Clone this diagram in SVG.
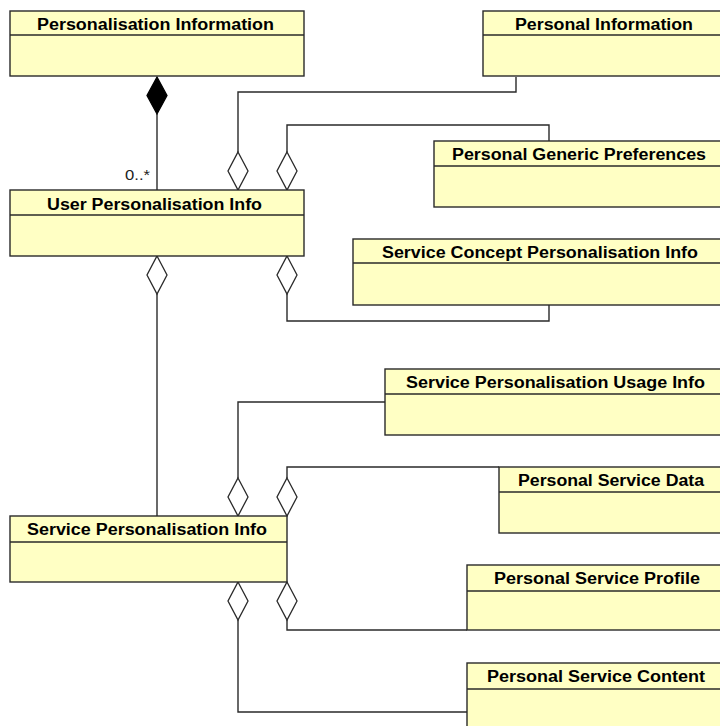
<svg xmlns="http://www.w3.org/2000/svg" width="720" height="726" viewBox="0 0 720 726">
<style>
.box{fill:#FFFFC4;stroke:#2a2a2a;stroke-width:1.4}
.sep{stroke:#2a2a2a;stroke-width:1.4}
.t{font-family:"Liberation Sans",Arial,sans-serif;font-weight:bold;font-size:16px;fill:#000}
.c{fill:none;stroke:#2a2a2a;stroke-width:1.4}
.ad{fill:#fff;stroke:#2a2a2a;stroke-width:1.3}
.cd{fill:#000;stroke:#000;stroke-width:1.3}
.m{font-family:"Liberation Sans",Arial,sans-serif;font-size:14px;fill:#222}
</style>
<rect width="720" height="726" fill="#fff"/>
<g id="connectors">
<path class="c" d="M157,114 V190"/>
<polygon class="cd" points="157,77 167,95.5 157,114 147,95.5"/>
<text class="m" x="125" y="180" textLength="25" lengthAdjust="spacingAndGlyphs">0..*</text>
<path class="c" d="M238,152 V92 H516 V77"/>
<polygon class="ad" points="238,152 248,171 238,190 228,171"/>
<path class="c" d="M287,152 V125 H549 V141"/>
<polygon class="ad" points="287,152 297,171 287,190 277,171"/>
<path class="c" d="M157,294 V516"/>
<polygon class="ad" points="157,256 167,275 157,294 147,275"/>
<path class="c" d="M287,294 V321 H549 V305"/>
<polygon class="ad" points="287,256 297,275 287,294 277,275"/>
<path class="c" d="M238,478 V402 H385"/>
<polygon class="ad" points="238,478 248,497 238,516 228,497"/>
<path class="c" d="M287,478 V467 H499"/>
<polygon class="ad" points="287,478 297,497 287,516 277,497"/>
<path class="c" d="M287,620 V630 H467"/>
<polygon class="ad" points="287,582 297,601 287,620 277,601"/>
<path class="c" d="M238,620 V712 H467"/>
<polygon class="ad" points="238,582 248,601 238,620 228,601"/>
</g>
<g id="personalisation-information">
<rect class="box" x="10" y="11" width="294" height="65"/>
<line class="sep" x1="10" y1="35" x2="304" y2="35"/>
<text class="t" x="37" y="30" textLength="237" lengthAdjust="spacingAndGlyphs">Personalisation Information</text>
</g>
<g id="personal-information">
<rect class="box" x="483" y="11" width="250" height="65"/>
<line class="sep" x1="483" y1="35" x2="733" y2="35"/>
<text class="t" x="515" y="30" textLength="178" lengthAdjust="spacingAndGlyphs">Personal Information</text>
</g>
<g id="personal-generic-preferences">
<rect class="box" x="434" y="141" width="300" height="66"/>
<line class="sep" x1="434" y1="166" x2="734" y2="166"/>
<text class="t" x="452" y="160" textLength="254" lengthAdjust="spacingAndGlyphs">Personal Generic Preferences</text>
</g>
<g id="user-personalisation-info">
<rect class="box" x="10" y="190" width="294" height="66"/>
<line class="sep" x1="10" y1="215" x2="304" y2="215"/>
<text class="t" x="47" y="210" textLength="215" lengthAdjust="spacingAndGlyphs">User Personalisation Info</text>
</g>
<g id="service-concept-personalisation-info">
<rect class="box" x="353" y="239" width="380" height="66"/>
<line class="sep" x1="353" y1="263" x2="733" y2="263"/>
<text class="t" x="382" y="258" textLength="316" lengthAdjust="spacingAndGlyphs">Service Concept Personalisation Info</text>
</g>
<g id="service-personalisation-usage-info">
<rect class="box" x="385" y="369" width="350" height="66"/>
<line class="sep" x1="385" y1="394" x2="735" y2="394"/>
<text class="t" x="406" y="388" textLength="299" lengthAdjust="spacingAndGlyphs">Service Personalisation Usage Info</text>
</g>
<g id="personal-service-data">
<rect class="box" x="499" y="467" width="240" height="66"/>
<line class="sep" x1="499" y1="492" x2="739" y2="492"/>
<text class="t" x="518" y="486" textLength="186" lengthAdjust="spacingAndGlyphs">Personal Service Data</text>
</g>
<g id="service-personalisation-info">
<rect class="box" x="10" y="516" width="277" height="66"/>
<line class="sep" x1="10" y1="542" x2="287" y2="542"/>
<text class="t" x="27" y="535" textLength="240" lengthAdjust="spacingAndGlyphs">Service Personalisation Info</text>
</g>
<g id="personal-service-profile">
<rect class="box" x="467" y="565" width="270" height="65"/>
<line class="sep" x1="467" y1="591" x2="737" y2="591"/>
<text class="t" x="494" y="584" textLength="206" lengthAdjust="spacingAndGlyphs">Personal Service Profile</text>
</g>
<g id="personal-service-content">
<rect class="box" x="467" y="663" width="270" height="80"/>
<line class="sep" x1="467" y1="689" x2="737" y2="689"/>
<text class="t" x="487" y="682" textLength="218" lengthAdjust="spacingAndGlyphs">Personal Service Content</text>
</g>
</svg>
